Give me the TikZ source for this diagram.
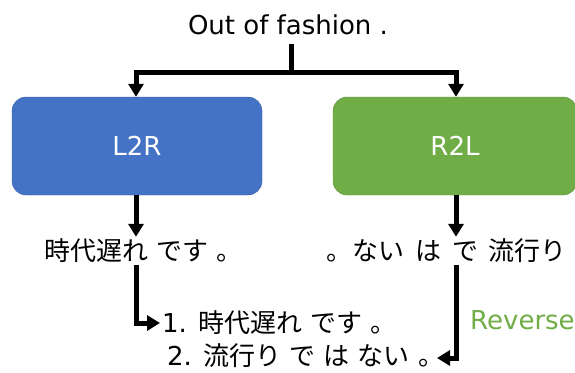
\documentclass[tikz,border=0pt]{standalone}
\usepackage{fontspec}
\setmainfont{DejaVu Sans}
\newfontfamily\jp{Noto Sans CJK JP}
\usetikzlibrary{arrows.meta}
\definecolor{blueb}{HTML}{4472C4}
\definecolor{greenb}{HTML}{70AD47}
\newcommand\jsp{\hspace{0.42em}}
\tikzset{
  lbl/.style={font=\fontsize{26}{30}\selectfont, inner sep=2pt},
  box/.style={rounded corners=14pt, minimum width=250pt, minimum height=98pt, text=white, font=\fontsize{26}{30}\selectfont},
  conn/.style={line width=5pt, line join=miter, -{Triangle[width=15pt,length=13pt]}},
  plain/.style={line width=5pt}
}
\begin{document}
\begin{tikzpicture}[x=1pt,y=-1pt]
\useasboundingbox (0,0) rectangle (575,372);
\node[lbl] (top) at (288,25) {Out of fashion .};
\node[box, fill=blueb, draw=blueb!85!black] (l2r) at (137,146) {L2R};
\node[box, fill=greenb, draw=greenb!85!black, minimum width=244pt] (r2l) at (455,146) {R2L};
\coordinate (j) at (291,72);
\draw[plain] ([yshift=-7pt]j |- top.south) -- (j);
\draw[line width=5pt, line join=miter, {Triangle[width=15pt,length=13pt]}-{Triangle[width=15pt,length=13pt]}] ([xshift=-1pt]l2r.north) |- (j) -| ([xshift=1pt]r2l.north);
\node[lbl, anchor=west] (t1) at (42,251) {{\jp 時代遅れ} {\jp です} {\jp 。}};
\node[lbl, anchor=west] (t2) at (324,251) {\jp 。ない\jsp は\jsp で\jsp 流行り};
\draw[conn] ([xshift=-1pt]l2r.south) -- ([xshift=-1pt]l2r.south |- t1.north);
\draw[conn] ([xshift=1pt]r2l.south) -- ([xshift=1pt]r2l.south |- t1.north);
\node[lbl, anchor=west] (b1) at (160,323) {1. {\jp 時代遅れ} {\jp です} {\jp 。}};
\node[lbl, anchor=west] (b2) at (165,356) {2. {\jp 流行り} {\jp で} {\jp は} {\jp ない} {\jp 。}};
\coordinate (tip2) at (437,358);
\draw[conn] ([xshift=-1pt]l2r.south |- t1.south) |- (b1.west);
\draw[conn] ([xshift=1pt]r2l.south |- t1.south) |- (tip2);
\node[lbl, text=greenb, anchor=west] (rev) at (468,320) {Reverse};
\end{tikzpicture}
\end{document}
